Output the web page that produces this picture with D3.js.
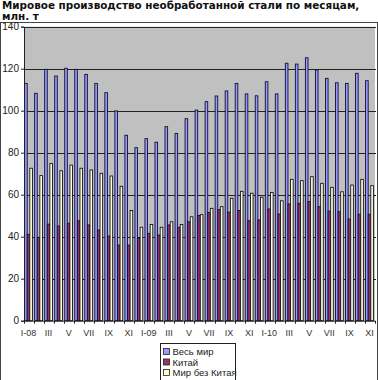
<!DOCTYPE html>
<html><head><meta charset="utf-8">
<script src="https://cdn.jsdelivr.net/npm/d3@7"></script>
<style>body{margin:0;background:#fff;}svg{display:block;}</style>
</head><body>
<script>
const months = ["I-08","II","III","IV","V","VI","VII","VIII","IX","X","XI","XII",
  "I-09","II","III","IV","V","VI","VII","VIII","IX","X","XI","XII",
  "I-10","II","III","IV","V","VI","VII","VIII","IX","X","XI"];
const world = [113.0,108.3,119.7,116.5,120.2,119.7,117.3,113.0,108.6,99.9,88.3,82.4,
  86.7,85.0,92.4,89.2,96.2,100.3,104.3,107.0,109.4,113.0,108.0,107.1,
  113.8,108.0,122.6,122.2,125.2,119.4,115.4,113.3,113.0,117.8,114.3];
const china = [41.1,39.7,46.0,45.1,46.4,47.6,45.6,43.2,40.3,36.0,36.0,39.2,
  41.6,40.8,45.6,44.5,47.1,50.1,51.5,52.9,51.7,52.5,47.6,48.0,
  53.2,50.8,55.6,55.9,56.7,54.3,52.2,51.9,48.4,50.7,50.7];
const exChina = [72.6,69.1,74.9,71.4,74.1,72.6,71.8,70.2,68.9,64.0,52.5,44.5,
  45.8,44.5,47.1,45.8,49.5,50.5,53.5,54.3,58.3,61.6,60.7,58.8,
  61.1,57.1,67.3,66.7,68.6,65.4,63.5,61.4,64.6,67.3,64.3];
const seriesNames = ["Весь мир","Китай","Мир без Китая"];
const seriesColors = ["#9999ff","#993366","#ffffcc"];
const yTicks = [0,20,40,60,80,100,120,140];

const W=378,H=380;
const svg=d3.select("body").append("svg").attr("width",W).attr("height",H);

// title
const title = svg.append("text").attr("x",2).attr("y",9)
  .attr("font-family","DejaVu Sans").attr("font-weight","bold").attr("font-size",10.4).attr("fill","#111");
title.append("tspan").attr("x",2).attr("y",9).text("Мировое производство необработанной стали по месяцам,");
title.append("tspan").attr("x",2).attr("y",19.5).text("млн. т");

// chart border
svg.append("rect").attr("x",0.5).attr("y",22.5).attr("width",377).attr("height",370)
  .attr("fill","none").attr("stroke","#444");

const plot={left:24,right:375,top:26.7,bottom:320.7};
const y=d3.scaleLinear().domain([0,140]).range([plot.bottom,plot.top]);
const x0=d3.scaleBand().domain(d3.range(months.length)).range([plot.left-0.5,plot.right-0.5]).paddingInner(0.22).paddingOuter(0.11);
const x1=d3.scaleBand().domain([0,1,2]).range([0,x0.bandwidth()]);

svg.append("rect").attr("x",plot.left).attr("y",plot.top).attr("width",plot.right-plot.left)
  .attr("height",plot.bottom-plot.top).attr("fill","#c0c0c0");

// gridlines
svg.append("g").selectAll("line").data(yTicks.filter(d=>d>0)).join("line")
  .attr("x1",plot.left).attr("x2",plot.right+1)
  .attr("y1",d=>Math.round(y(d))+0.5).attr("y2",d=>Math.round(y(d))+0.5)
  .attr("stroke","#222").attr("stroke-width",1);

// bars
const data=[world,china,exChina];
const gBars=svg.append("g");
data.forEach((arr,s)=>{
  gBars.append("g").selectAll("rect").data(arr).join("rect")
    .attr("x",(d,i)=>x0(i)+x1(s))
    .attr("y",d=>y(d))
    .attr("width",x1.bandwidth())
    .attr("height",d=>y(0)-y(d))
    .attr("fill",seriesColors[s])
    .attr("stroke","#101030").attr("stroke-width",0.9);
});

// y axis
const yAxis=d3.axisLeft(y).tickValues(yTicks).tickSize(3).tickPadding(2);
const gy=svg.append("g").attr("transform",`translate(${plot.left},0)`).call(yAxis);
gy.select(".domain").attr("stroke","#222");
gy.selectAll(".tick line").attr("stroke","#222");
gy.selectAll("text").attr("font-family","Liberation Sans").attr("font-size",10).attr("fill","#222");

// x axis
const xAxis=d3.axisBottom(x0).tickValues(d3.range(0,months.length,2)).tickFormat(i=>months[i]).tickSize(0).tickPadding(9);
const gx=svg.append("g").attr("transform",`translate(0,${plot.bottom})`).call(xAxis);
gx.select(".domain").remove();
gx.selectAll("text").attr("font-family","Liberation Sans").attr("font-size",9).attr("fill","#333");
svg.append("line").attr("x1",plot.left).attr("x2",plot.right).attr("y1",plot.bottom+0.5).attr("y2",plot.bottom+0.5).attr("stroke","#222");
svg.append("g").selectAll("line").data(d3.range(months.length+1)).join("line")
  .attr("x1",i=>Math.round(plot.left+(plot.right-plot.left)*i/months.length)+0.5)
  .attr("x2",i=>Math.round(plot.left+(plot.right-plot.left)*i/months.length)+0.5)
  .attr("y1",plot.bottom).attr("y2",plot.bottom+3).attr("stroke","#222");

// legend
const lg=svg.append("g").attr("transform","translate(160.5,343.5)");
lg.append("rect").attr("width",75).attr("height",40).attr("fill","#fff").attr("stroke","#222");
seriesNames.forEach((n,i)=>{
  const gi=lg.append("g").attr("transform",`translate(3,${5+i*10.5})`);
  gi.append("rect").attr("width",6).attr("height",6).attr("fill",seriesColors[i]).attr("stroke","#222").attr("stroke-width",0.8);
  gi.append("text").attr("x",9).attr("y",6.5).attr("font-family","Liberation Sans").attr("font-size",9.5).attr("fill","#222").text(n);
});
</script>
</body></html>
